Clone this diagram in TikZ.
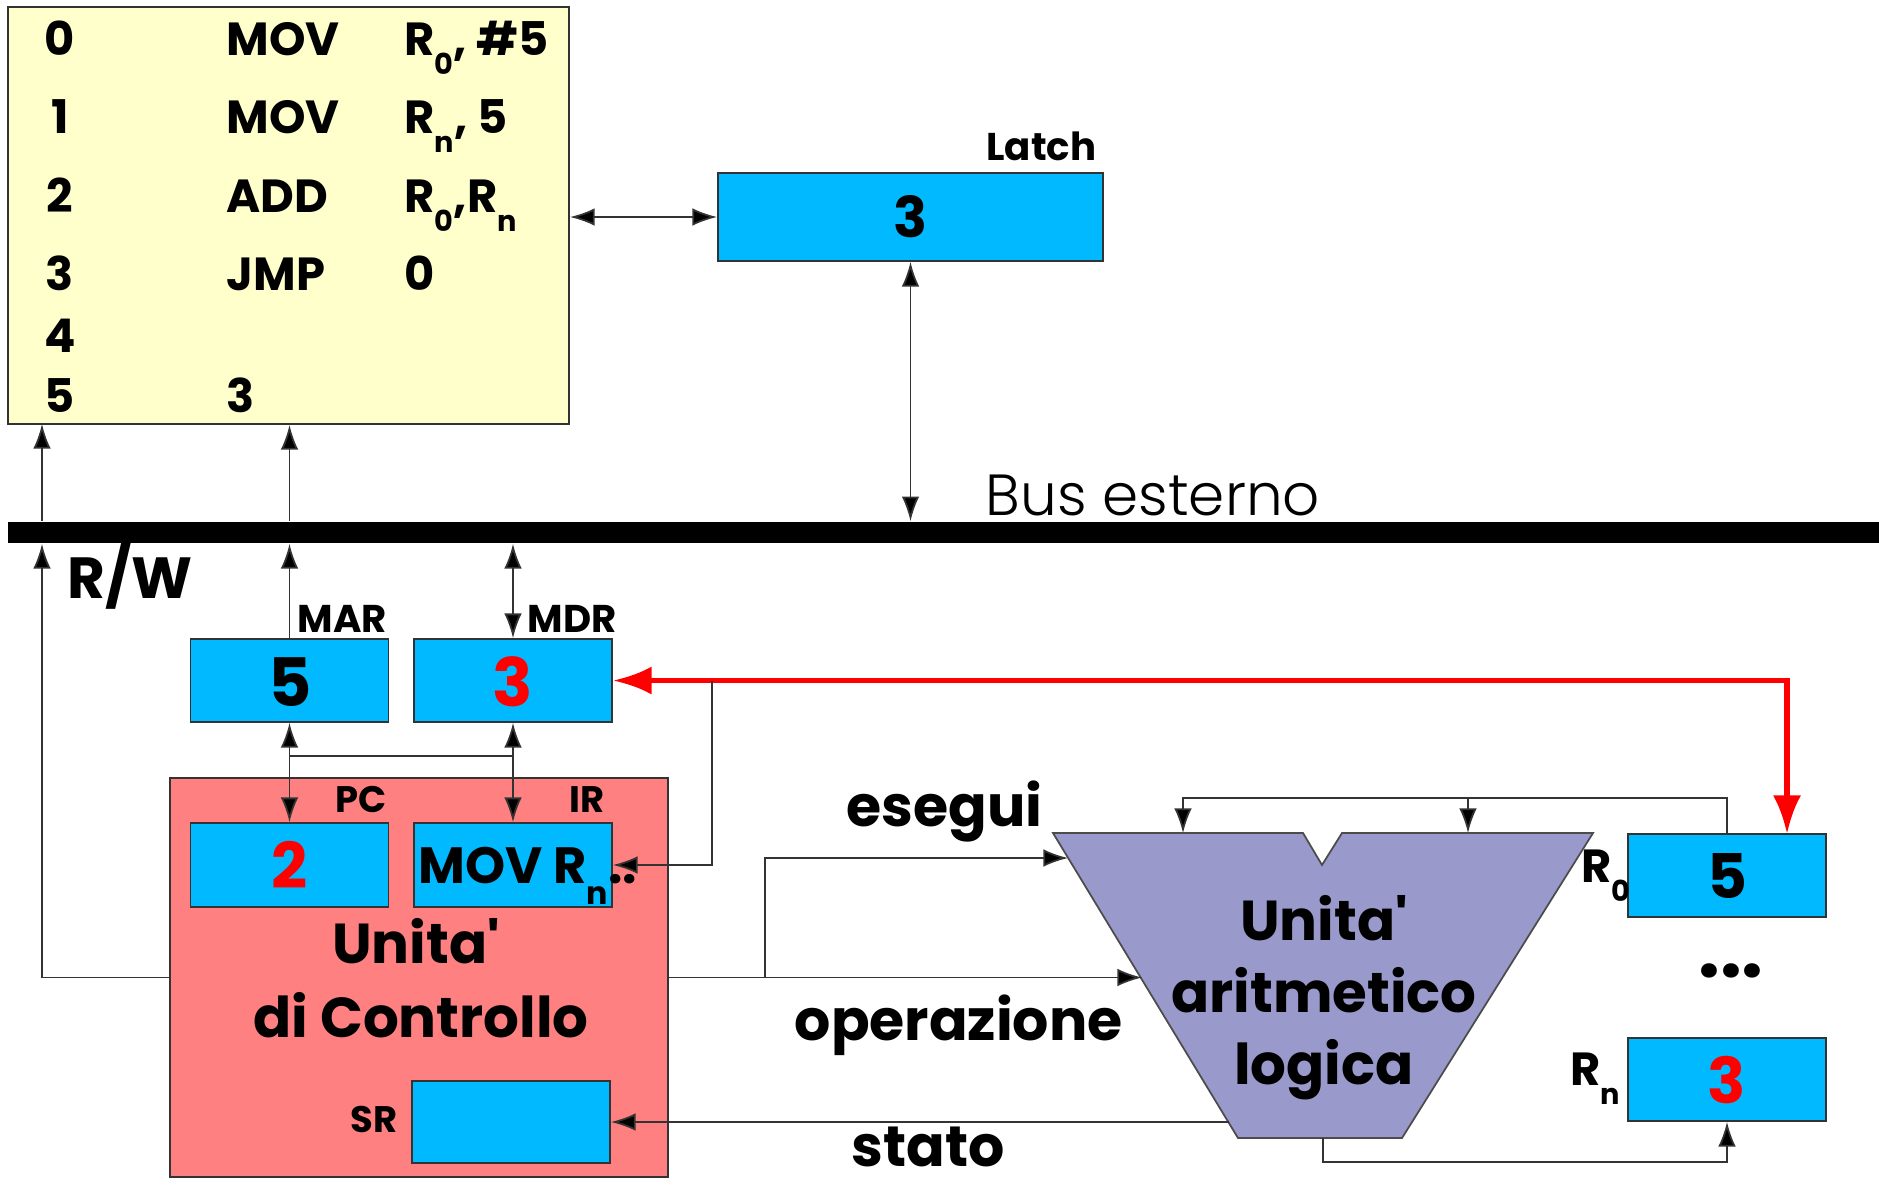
\documentclass[tikz,border=0pt]{standalone}
\usepackage{fontspec}
\setmainfont{Poppins}[Ligatures=TeXOff]
\newfontfamily\lightfont{Poppins Light}[Ligatures=TeXOff]
\usetikzlibrary{arrows.meta,calc}
\definecolor{regblue}{HTML}{00B9FF}
\definecolor{memyellow}{HTML}{FFFFCC}
\definecolor{cupink}{HTML}{FF8080}
\definecolor{alupurple}{HTML}{9999CC}
\definecolor{sigred}{HTML}{FF0000}
\newcommand\fsz[1]{\fontsize{#1}{#1}\selectfont}
\newcommand\sbs[1]{\raisebox{-0.43em}{\scalebox{0.62}{#1}}}
\begin{document}
\begin{tikzpicture}[x=0.01cm,y=-0.01cm,
  box/.style={draw=black!80, line width=0.5pt, inner sep=0, anchor=center},
  regbox/.style={box, fill=regblue, minimum width=1.98cm, minimum height=0.83cm},
  memt/.style={inner sep=0, font=\bfseries\fsz{13.2}},
  lbl/.style={inner sep=0, font=\bfseries\fsz{11}},
  slbl/.style={inner sep=0, font=\bfseries\fsz{10.5}},
  val/.style={inner sep=0, font=\bfseries\fsz{19}},
  big/.style={inner sep=0, font=\bfseries\fsz{16}},
  alut/.style={inner sep=0, font=\bfseries\fsz{16}},
  sig/.style={inner sep=0, font=\bfseries\fsz{16.2}},
  conn/.style={draw=black!80, line width=0.5pt},
  arr/.style={conn, -{Latex[length=7pt,width=5pt,fill=black]}},
  darr/.style={conn, {Latex[length=7pt,width=5pt,fill=black]}-{Latex[length=7pt,width=5pt,fill=black]}},
  redarr/.style={draw=sigred, line width=1.6pt, {Latex[length=11pt,width=8pt]}-{Latex[length=11pt,width=8pt]}}
]
\useasboundingbox (0,0) rectangle (1879,1184);

% boxes
\node[box, fill=memyellow, minimum width=5.61cm, minimum height=4.17cm] (mem) at (288.5,215.5) {};
\node[regbox, minimum width=3.85cm, minimum height=0.88cm] (latch) at (910.5,217) {};
\node[box, fill=black, draw=none, minimum width=18.70cm, minimum height=0.21cm] (bus) at (944,532.5) {};
\node[regbox] (mar) at (289.5,680.5) {};
\node[regbox] (mdr) at (513,680.5) {};
\node[box, fill=cupink, minimum width=4.98cm, minimum height=3.99cm] (cu) at (419,977.5) {};
\node[regbox, minimum height=0.84cm] (pc) at (289.5,865) {};
\node[regbox, minimum height=0.84cm] (ir) at (513,865) {};
\node[regbox, minimum height=0.82cm] (sr) at (511,1122) {};
\node[regbox] (r0) at (1727,875.5) {};
\node[regbox] (rn) at (1727,1079.5) {};
\draw[fill=alupurple, draw=black!70, line width=0.5pt]
  (1053,833) -- (1303,833) -- (1322,865) -- (1342,833) -- (1593,833)
  -- (1402,1138) -- (1238,1138) -- cycle;

% memory contents
\node[memt, anchor=base] (a0) at (60,55) {0};
\node[memt, anchor=base west] (i0) at (226,55) {MOV};
\node[memt, anchor=base west] (o0) at (404,55) {R\sbs{0}, \#5};
\node[memt, anchor=base] (a1) at (60,133) {1};
\node[memt, anchor=base west] (i1) at (226,133) {MOV};
\node[memt, anchor=base west] (o1) at (404,133) {R\sbs{n}, 5};
\node[memt, anchor=base] (a2) at (60,212) {2};
\node[memt, anchor=base west] (i2) at (226,212) {ADD};
\node[memt, anchor=base west] (o2) at (404,212) {R\sbs{0},R\sbs{n}};
\node[memt, anchor=base] (a3) at (60,290) {3};
\node[memt, anchor=base west] (i3) at (226,290) {JMP};
\node[memt, anchor=base west] (o3) at (404,290) {0};
\node[memt, anchor=base] (a4) at (60,352) {4};
\node[memt, anchor=base] (a5) at (60,412) {5};
\node[memt, anchor=base west] (i5) at (226,412) {3};

% labels
\node[lbl, anchor=base east] (latchl) at (1097,160) {Latch};
\node[lbl, anchor=base west] (marl) at (297,632) {MAR};
\node[lbl, anchor=base west] (mdrl) at (527,632) {MDR};
\node[slbl, anchor=base east] (pcl) at (387,812) {PC};
\node[slbl, anchor=base east] (irl) at (605,812) {IR};
\node[slbl, anchor=base east] (srl) at (398,1132) {SR};
\node[inner sep=0, font=\bfseries\fsz{16.5}, anchor=base west] (rwl) at (67,598) {R/W};
\node[inner sep=0, font=\lightfont\fsz{16.5}, anchor=base west] (busl) at (985,515) {Bus esterno};
\node[memt, anchor=base east] (r0l) at (1631,882) {R\sbs{0}};
\node[memt, anchor=base east] (rnl) at (1621,1085) {R\sbs{n}};

% register values
\node[inner sep=0, font=\bfseries\fsz{16}, anchor=base] (latchv) at (911,237) {3};
\node[val, anchor=base] (marv) at (290,706) {5};
\node[val, anchor=base, text=sigred] (mdrv) at (513,706) {3};
\node[val, anchor=base, text=sigred, font=\bfseries\fsz{18}] (pcv) at (290,888) {2};
\node[inner sep=0, font=\bfseries\fsz{14.5}, anchor=base west] (irv) at (418,883) {MOV R\sbs{n}..};
\node[val, anchor=base, font=\bfseries\fsz{17.5}] (r0v) at (1727,898) {5};
\node[val, anchor=base, text=sigred, font=\bfseries\fsz{18}] (rnv) at (1727,1103) {3};
\node[inner sep=0, font=\bfseries\fsz{22}, anchor=base] (dots) at (1731,977) {...};

% unit texts
\node[big, anchor=base] (cu1) at (416,963) {Unita'};
\node[big, anchor=base] (cu2) at (421,1037) {di Controllo};
\node[alut, anchor=base] (alu1) at (1324,940) {Unita'};
\node[alut, anchor=base] (alu2) at (1324,1012) {aritmetico};
\node[alut, anchor=base] (alu3) at (1324,1084) {logica};

% signal labels
\node[sig, anchor=base west] (esl) at (846,826) {esegui};
\node[sig, anchor=base west] (opl) at (794,1040) {operazione};
\node[sig, anchor=base west] (stl) at (851,1166) {stato};

% coordinates
\coordinate (rwtop) at (42,424);
\coordinate (j1) at (289.5,756);
\coordinate (j2) at (513,756);
\coordinate (r0in) at (1787,834);
\coordinate (brk) at (712,681);
\coordinate (opin) at (1142,978);
\coordinate (exbr) at (765,978);
\coordinate (exin) at (1068,858);
\coordinate (stout) at (1229,1122);
\coordinate (aluin1) at (1183,833);
\coordinate (aluin2) at (1468,833);
\coordinate (fbtop) at (1727,798);
\coordinate (alubot) at (1323,1138);
\coordinate (fbbot) at (1323,1162);

% connectors
\draw[arr] (cu.west) -| (bus.south -| rwtop);
\draw[arr] (bus.north -| rwtop) -- (rwtop);
\draw[arr] (mar.north) -- (bus.south -| mar.north);
\draw[arr] (bus.north -| mar.north) -- (mem.south -| mar.north);
\draw[darr] (mdr.north) -- (bus.south -| mdr.north);
\draw[darr] (mem.east |- latch.west) -- (latch.west);
\draw[darr] (latch.south) -- (bus.north -| latch.south);
\draw[darr] (mar.south) -- (pc.north);
\draw[darr] (mdr.south) -- (ir.north);
\draw[conn] (j1) -- (j2);
\draw[redarr] (mdr.east) -- (mdr.east -| r0in) -- (r0in);
\draw[arr] (brk) |- (ir.east);
\draw[arr] (cu.east) -- (cu.east -| opin);
\draw[arr] (cu.east -| exbr) |- (exin);
\draw[arr] (stout) -- (sr.east);
\draw[arr] (r0.north) -- (fbtop) -| (aluin1);
\draw[arr] (aluin2 |- fbtop) -- (aluin2);
\draw[arr] (alubot) -- (fbbot) -| (rn.south);
\end{tikzpicture}
\end{document}
